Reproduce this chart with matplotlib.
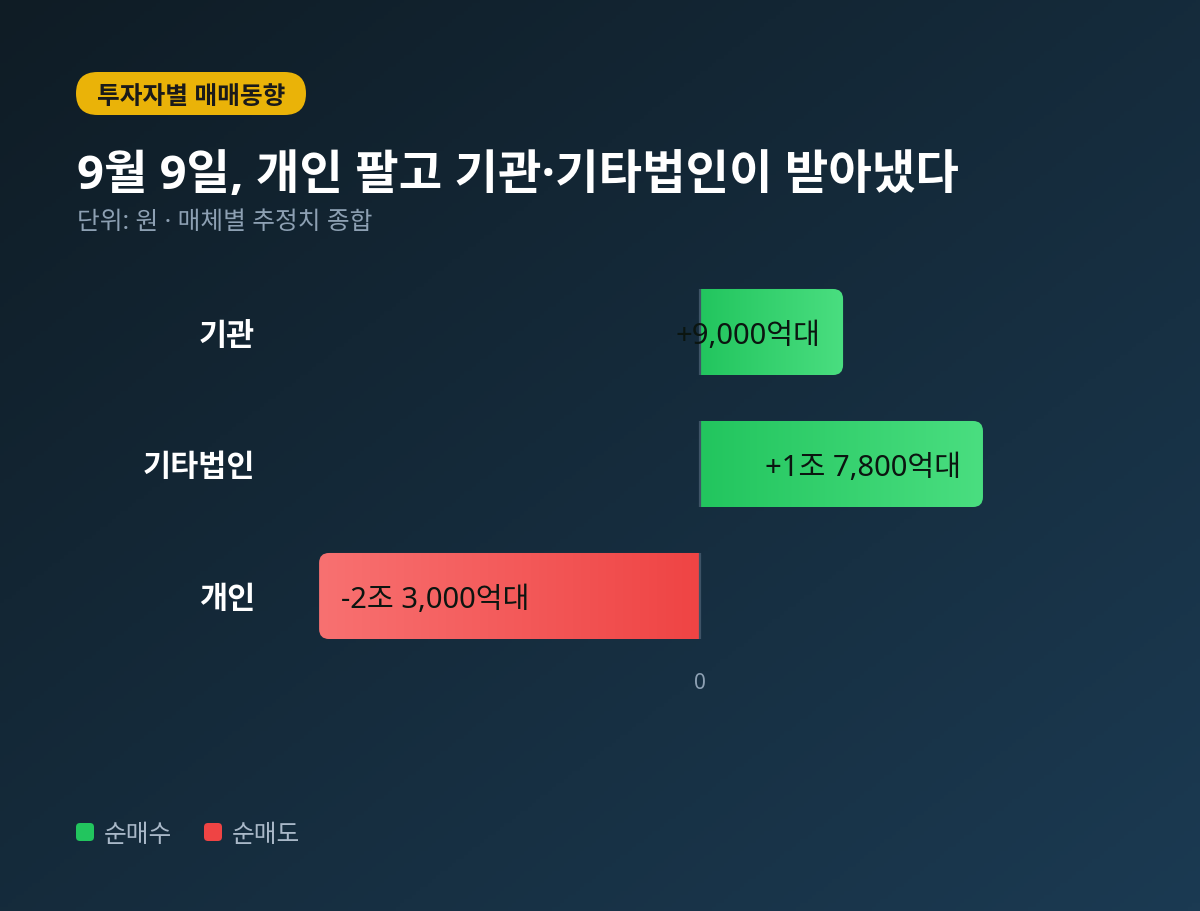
"""
투자자별 매매동향 — 9월 9일 순매수/순매도 가로 막대.
"""

import numpy as np
import matplotlib
matplotlib.use("Agg")
import matplotlib.pyplot as plt
from matplotlib import font_manager as fm
from matplotlib.path import Path
from matplotlib.patches import PathPatch, FancyBboxPatch
from matplotlib.colors import LinearSegmentedColormap
from matplotlib.transforms import IdentityTransform

CJK = "Noto Sans CJK KR"


def bold_latin():
    """first Latin family that really ships a bold face (narrow middle dot)"""
    for fam in ["Noto Sans", "Open Sans", "Inter", "Roboto", "Lato"]:
        try:
            f = fm.findfont(fm.FontProperties(family=fam, weight="bold"),
                            fallback_to_default=False)
        except Exception:
            continue
        if "bold" in f.lower():
            return fam
    return CJK


# Latin/punctuation from Noto Sans (narrow middle dot), Hangul from the CJK face
plt.rcParams["font.family"] = ["Noto Sans", CJK, "DejaVu Sans"]
BOLD_FAMILY = [bold_latin(), CJK, "DejaVu Sans"]

# ---------------------------------------------------------------------------
# Data (억원)
# ---------------------------------------------------------------------------
CATEGORIES = ["기관", "기타법인", "개인"]
VALUES = [9000, 17800, -23960]
VALUE_LABELS = ["+9,000억대", "+1조 7,800억대", "-2조 3,000억대"]
LEGEND_LABELS = ["순매수", "순매도"]

BADGE = "투자자별 매매동향"
TITLE = "9월 9일, 개인 팔고 기관·기타법인이 받아냈다"
SUBTITLE = "단위: 원 · 매체별 추정치 종합"

W, H, DPI = 1200, 912, 100

BG_START, BG_END = "#0f1c25", "#1b3a52"
GREEN = ("#22c55e", "#4ade80")   # zero side -> tip
RED = ("#ef4444", "#f87171")
YELLOW = "#eab308"
MUTED = "#8da0b3"


def px(x, y):
    """pixel (top-left origin) -> figure fraction"""
    return x / W, 1 - y / H


def bar_path(xz, xt, ya, yb, r):
    s = np.sign(xt - xz)
    verts = [
        (xz, ya), (xt - s * r, ya), (xt, ya), (xt, ya + r),
        (xt, yb - r), (xt, yb), (xt - s * r, yb), (xz, yb), (xz, ya),
    ]
    codes = [
        Path.MOVETO, Path.LINETO, Path.CURVE3, Path.CURVE3,
        Path.LINETO, Path.CURVE3, Path.CURVE3, Path.LINETO, Path.CLOSEPOLY,
    ]
    return Path(verts, codes)


fig = plt.figure(figsize=(W / DPI, H / DPI), dpi=DPI)

# background gradient (diagonal)
bg = fig.add_axes([0, 0, 1, 1], zorder=-10)
gx, gy = np.meshgrid(np.linspace(0, 1, 300), np.linspace(0, 1, 228))
bg.imshow((gx + gy) / 2, cmap=LinearSegmentedColormap.from_list("bg", [BG_START, BG_END]),
          extent=(0, 1, 0, 1), aspect="auto", origin="upper")
bg.axis("off")

# main axes
x0, y0 = px(280, 663)
ax = fig.add_axes([x0, y0, 840 / W, 396 / H])
ax.set_facecolor("none")
ax.set_xlim(-26420, 26420)
ax.set_ylim(2.5, -0.5)
ax.set_autoscale_on(False)
for sp in ax.spines.values():
    sp.set_visible(False)

bar_h = 0.652
grad = np.linspace(0, 1, 256).reshape(1, -1)
for i, (v, lab) in enumerate(zip(VALUES, VALUE_LABELS)):
    cols = GREEN if v > 0 else RED
    cmap = LinearSegmentedColormap.from_list(f"b{i}", list(cols))
    ya, yb = i - bar_h / 2, i + bar_h / 2
    (dz, da), (dt, db) = ax.transData.transform([(0, ya), (v, yb)])
    lo, hi = min(da, db), max(da, db)
    patch = PathPatch(bar_path(dz, dt, lo, hi, 10), facecolor="none",
                      edgecolor="none", transform=IdentityTransform())
    ax.add_patch(patch)
    im = ax.imshow(grad, cmap=cmap, extent=(0, v, yb, ya), aspect="auto",
                   zorder=2, interpolation="bilinear")
    im.set_clip_path(patch)
    ax.vlines(0, ya, yb, color="#3e5366", lw=1.6, zorder=3)

    s = 1 if v > 0 else -1
    ax.annotate(lab, (v, i), xytext=(-s * 16, 0), textcoords="offset points",
                ha="right" if v > 0 else "left", va="center_baseline",
                fontsize=21, fontweight="medium", color="#0b1510", zorder=4)

ax.set_yticks(range(len(CATEGORIES)), CATEGORIES)
ax.set_xticks([0], ["0"])
ax.tick_params(axis="y", length=0, pad=18, labelsize=22, labelcolor="white")
for t in ax.get_yticklabels():
    t.set_fontweight("bold")
ax.tick_params(axis="x", length=0, pad=7, labelsize=15, labelcolor=MUTED)

# header
fig.patches.append(FancyBboxPatch((76, H - 116), 230, 43,
                                  boxstyle="round,pad=0,rounding_size=21.5",
                                  fc=YELLOW, ec="none", transform=IdentityTransform(),
                                  figure=fig))
fig.text(*px(191, 95), BADGE, ha="center", va="center_baseline",
         fontsize=17.8, fontweight="bold", color="#1a1a1a")
fig.text(*px(77, 189), TITLE, ha="left", va="baseline", family=BOLD_FAMILY,
         fontsize=34, fontweight="bold", color="white")
fig.text(*px(77, 229), SUBTITLE, ha="left", va="baseline",
         fontsize=17.8, color=MUTED)

# legend
for lx, col, lab in [(76, GREEN[0], LEGEND_LABELS[0]), (204, RED[0], LEGEND_LABELS[1])]:
    fig.patches.append(FancyBboxPatch((lx, H - 842), 18, 18,
                                      boxstyle="round,pad=0,rounding_size=4",
                                      fc=col, ec="none", transform=IdentityTransform(),
                                      figure=fig))
    fig.text(*px(lx + 28, 833), lab, ha="left", va="center_baseline",
             fontsize=17.8, color="#a9b8c8")

fig.savefig("out.png", dpi=DPI)
